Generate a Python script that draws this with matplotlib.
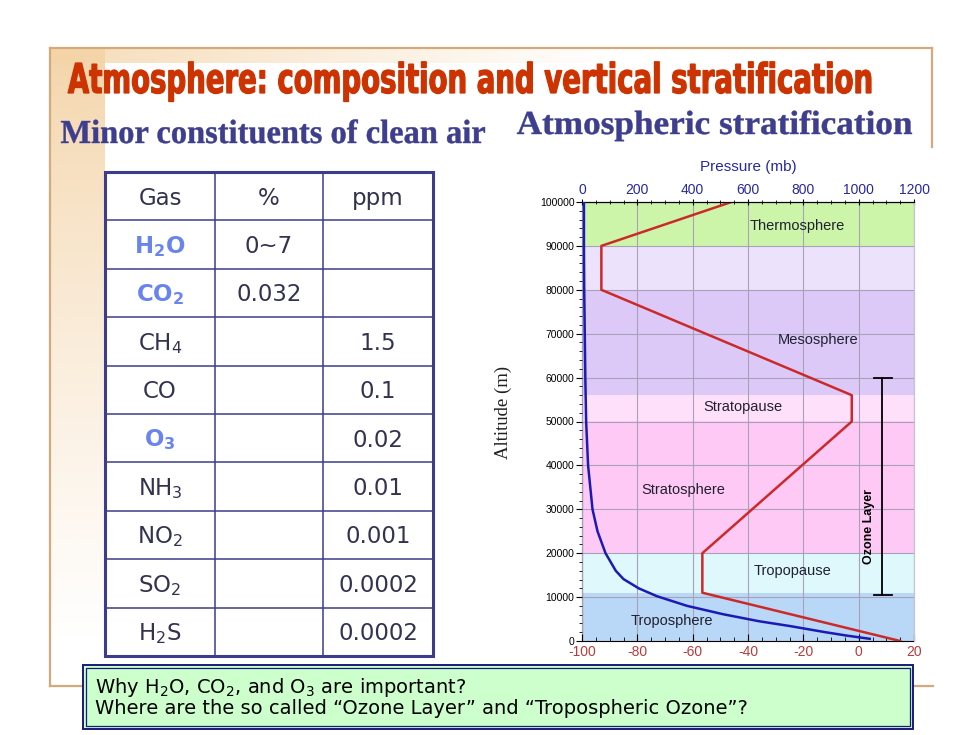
import numpy as np
import matplotlib
matplotlib.use("Agg")
import matplotlib.pyplot as plt
from matplotlib.patches import Rectangle, PathPatch
from matplotlib.textpath import TextPath
from matplotlib.font_manager import FontProperties
from matplotlib.transforms import Affine2D
from matplotlib.ticker import MultipleLocator, StrMethodFormatter

plt.rcParams["axes.unicode_minus"] = False
plt.rcParams["mathtext.default"] = "regular"

# ---- table data ----
table_header = ["Gas", "%", "ppm"]
gas_labels = [r"$\mathbf{H_2O}$", r"$\mathbf{CO_2}$", "CH$_4$", "CO", r"$\mathbf{O_3}$",
              "NH$_3$", "NO$_2$", "SO$_2$", "H$_2$S"]
gas_highlight = [True, True, False, False, True, False, False, False, False]
gas_percent = ["0~7", "0.032", "", "", "", "", "", "", ""]
gas_ppm = ["", "", "1.5", "0.1", "0.02", "0.01", "0.001", "0.0002", "0.0002"]

# ---- atmospheric layers (altitude in m) ----
layer_names = ["Troposphere", "Tropopause", "Stratosphere", "Stratopause",
               "Mesosphere", "", "Thermosphere"]
layer_bottom = [0, 11000, 20000, 50000, 56000, 80000, 90000]
layer_top = [11000, 20000, 50000, 56000, 80000, 90000, 100000]
layer_colors = ["#b9d7f6", "#def8fc", "#ffc9f6", "#ffe0fb", "#dcc9f8", "#ede2fb", "#ccf5aa"]
label_pos = [(-67.5, 4500), (-24, 15900), (-63.5, 34500), (-41.8, 53200),
             (-14.7, 68600), (0, 0), (-22.3, 94500)]

# temperature profile (deg C vs altitude m)
temp_alt = [0, 11000, 20000, 50000, 56000, 80000, 90000, 100000]
temp_val = [15, -56.5, -56.5, -2.5, -2.5, -93, -93, -46]

# pressure profile (mb vs altitude m)
pres_alt = [500, 1200, 2000, 3400, 4500, 6100, 8000, 10200, 12000, 14100, 16000,
            18600, 20000, 25000, 30000, 40000, 50000, 60000, 70000, 80000, 90000, 100000]
pres_val = [1040, 960, 880, 752, 640, 510, 380, 271, 205, 150, 122,
            98, 85, 56, 38, 22, 15, 12, 10, 8, 7, 7]

W, H = 980, 735
fig = plt.figure(figsize=(9.8, 7.35), dpi=100)
bg = fig.add_axes([0, 0, 1, 1])
bg.axis("off")

sans = ["Liberation Sans", "DejaVu Sans"]
serif = ["Liberation Serif", "DejaVu Serif"]

# ---- slide decoration ----
tan = np.array([244, 212, 168]) / 255
n = 300
strip = np.zeros((n, 1, 4))
strip[..., :3] = tan
strip[:, 0, 3] = np.clip(1 - np.linspace(0, 1, n) ** 0.8, 0, 1)
bg.imshow(strip, extent=(50, 104, 640, 48), aspect="auto", interpolation="bilinear", zorder=1)
band = np.zeros((1, n, 4))
band[..., :3] = tan
band[0, :, 3] = np.clip(0.8 - np.linspace(0, 1, n), 0, 1)
bg.imshow(band, extent=(50, 760, 63, 48), aspect="auto", interpolation="bilinear", zorder=1)

fc = "#d4aa7a"
bg.plot([50, 932], [48, 48], color=fc, lw=1.6, zorder=2)
bg.plot([932, 932], [48, 147], color=fc, lw=1.6, zorder=2)
bg.plot([50, 50], [48, 686], color=fc, lw=1.6, zorder=2)
bg.plot([50, 933], [686, 686], color=fc, lw=1.6, zorder=2)

renderer = fig.canvas.get_renderer()


def fit_width(t, target):
    w = t.get_window_extent(renderer).width
    t.set_fontsize(t.get_fontsize() * target / w)


def path_text(s, x0, base, width, cap, prop, color, stroke=0.0):
    """Draw text as an outline stretched to a given width and cap height (pixels)."""
    tp = TextPath((0, 0), s, size=100, prop=prop)
    ext = tp.get_extents()
    caph = TextPath((0, 0), "H", size=100, prop=prop).get_extents().y1
    tr = Affine2D().translate(-ext.x0, 0).scale(width / ext.width, -cap / caph).translate(x0, base)
    bg.add_patch(PathPatch(tp, transform=tr + bg.transData, fc=color, ec=color,
                           lw=stroke, zorder=3))


path_text("Atmosphere: composition and vertical stratification", 68, 93, 803, 30,
          FontProperties(family="DejaVu Sans", weight="bold"), "#cc3300", stroke=0.9)
path_text("Minor constituents of clean air", 61, 143, 424, 22,
          FontProperties(family=serif, weight="bold"), "#3e3e8e", stroke=0.3)
path_text("Atmospheric stratification", 517, 134, 395, 22,
          FontProperties(family=serif, weight="bold"), "#3e3e8e", stroke=0.3)

# ---- table ----
cols = [105, 215, 323, 433]
top, bottom = 172, 656
nrows = len(gas_labels) + 1
rh = (bottom - top) / nrows
lc = "#3c3c8c"
for i in range(1, nrows):
    bg.plot([cols[0], cols[-1]], [top + i * rh] * 2, color=lc, lw=1.1, zorder=3)
for x in cols[1:-1]:
    bg.plot([x, x], [top, bottom], color=lc, lw=1.1, zorder=3)
bg.add_patch(Rectangle((cols[0], top), cols[-1] - cols[0], bottom - top, fill=False,
                       ec=lc, lw=2.2, zorder=4))
rows = [table_header] + [[g, p, q] for g, p, q in zip(gas_labels, gas_percent, gas_ppm)]
hl = [False] + gas_highlight
for r, (row, h) in enumerate(zip(rows, hl)):
    yc = top + (r + 0.5) * rh
    for c, txt in enumerate(row):
        if not txt:
            continue
        xc = (cols[c] + cols[c + 1]) / 2
        col = "#6a84ee" if (h and c == 0) else "#333350"
        bg.text(xc, yc + 8.4, txt, family="DejaVu Sans", fontsize=16.5, color=col,
                ha="center", va="baseline", zorder=5)

# ---- question box ----
bg.add_patch(Rectangle((83, 665), 830, 64, fc="#ccffcc", ec="#1a1a7a", lw=1.4, zorder=6))
bg.add_patch(Rectangle((86, 668), 824, 58, fill=False, ec="#1a1a7a", lw=0.9, zorder=7))
q1 = bg.text(95, 693, "Why H$_2$O, CO$_2$, and O$_3$ are important?", family="DejaVu Sans",
             fontsize=12, color="black", ha="left", va="baseline", zorder=8)
q2 = bg.text(95, 714, "Where are the so called \u201cOzone Layer\u201d and \u201cTropospheric Ozone\u201d?",
             family="DejaVu Sans", fontsize=12, color="black", ha="left", va="baseline", zorder=8)
fit_width(q2, 648)
q1.set_fontsize(q2.get_fontsize())

bg.text(503, 412, "Altitude (m)", family=serif, fontsize=13.5, rotation=90,
        ha="center", va="center", color="#202020", zorder=3)
bg.text(748, 167, "Pressure (mb)", family=sans, fontsize=11, color="#2828a0",
        ha="center", va="center", zorder=3)

bg.set_xlim(0, W)
bg.set_ylim(H, 0)

# ---- stratification chart ----
ax = fig.add_axes([582 / W, 1 - 641 / H, 332 / W, 439 / H])
ax2 = ax.twiny()
ax.set_zorder(2)
ax2.set_zorder(3)

for b, tp, c in zip(layer_bottom, layer_top, layer_colors):
    ax.axhspan(b, tp, color=c, lw=0, zorder=0)
for name, (x, y) in zip(layer_names, label_pos):
    if name:
        ax.text(x, y, name, family=sans, fontsize=10.5, color="#202030",
                ha="center", va="center", zorder=4)

ax.plot(temp_val, temp_alt, color="#cc2a2a", lw=1.8, zorder=3)
ax2.plot(pres_val, pres_alt, color="#1a1ab4", lw=1.8, zorder=3)

# ozone layer bracket
ax.plot([8.5, 8.5], [10500, 60000], color="black", lw=1.3, zorder=4)
ax.plot([5.5, 12], [60000, 60000], color="black", lw=1.3, zorder=4)
ax.plot([5.5, 12], [10500, 10500], color="black", lw=1.3, zorder=4)
ax.text(3.7, 26000, "Ozone Layer", family=sans, weight="bold", fontsize=9, rotation=90,
        ha="center", va="center", color="black", zorder=4)

ax.set_xlim(-100, 20)
ax.set_ylim(0, 100000)
ax2.set_xlim(0, 1200)

ax.xaxis.set_major_locator(MultipleLocator(20))
ax.xaxis.set_minor_locator(MultipleLocator(5))
ax.yaxis.set_major_locator(MultipleLocator(10000))
ax.yaxis.set_minor_locator(MultipleLocator(2000))
ax.yaxis.set_major_formatter(StrMethodFormatter("{x:.0f}"))
ax2.xaxis.set_major_locator(MultipleLocator(200))
ax2.xaxis.set_minor_locator(MultipleLocator(50))

ax.grid(True, which="major", color="#a8a2b8", lw=0.8)
ax.set_axisbelow(False)

ax.tick_params(axis="y", which="major", direction="out", length=4, labelsize=7.5, pad=1.5)
ax.tick_params(axis="y", which="minor", direction="out", length=2)
ax.tick_params(axis="x", which="major", direction="in", length=5, labelsize=10,
               labelcolor="#b83c3c", pad=3)
ax.tick_params(axis="x", which="minor", direction="in", length=3)
ax2.tick_params(axis="x", which="major", direction="inout", length=5, labelsize=10,
                labelcolor="#2828a0", pad=1)
ax2.tick_params(axis="x", which="minor", direction="inout", length=3)
for lab in ax.get_xticklabels() + ax.get_yticklabels() + ax2.get_xticklabels():
    lab.set_family(sans)

for a in (ax, ax2):
    a.spines["right"].set_color("#c4c4d4")
    a.spines["left"].set_color("black")
    a.spines["top"].set_color("black")
    a.spines["bottom"].set_color("black")
ax2.spines["left"].set_visible(False)
ax2.spines["bottom"].set_visible(False)

fig.savefig("out.png", dpi=100)
